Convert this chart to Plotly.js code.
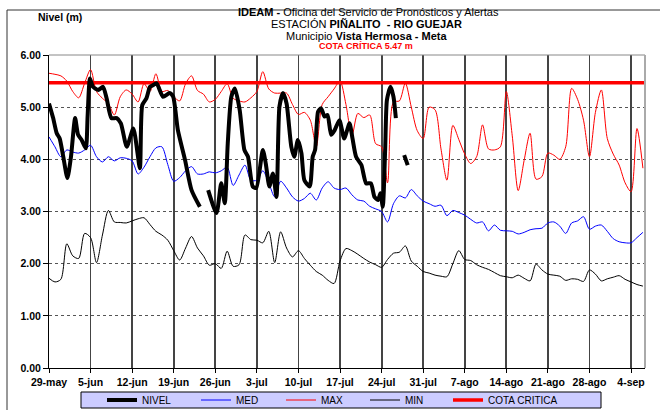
<!DOCTYPE html>
<html>
<head>
<meta charset="utf-8">
<script src="https://cdn.plot.ly/plotly-3.0.1.min.js"></script>
<style>html,body{margin:0;padding:0;background:#fff;}#chart{width:660px;height:410px;}</style>
</head>
<body>
<div id="chart"></div>
<script>
// Tick labels (one per week starting 29-may, day index 0)
const tickDays = [0, 7, 14, 21, 28, 35, 42, 49, 56, 63, 70, 77, 84, 91, 98];
const tickLabels = ['29-may','5-jun','12-jun','19-jun','26-jun','3-jul','10-jul','17-jul','24-jul','31-jul','7-ago','14-ago','21-ago','28-ago','4-sep'];

// Daily historical MAX (day 0 .. 100)
const maxVals = [5.65,5.63,5.60,5.50,5.30,5.18,5.46,5.72,5.30,5.17,
  5.07,4.85,5.20,5.33,5.25,5.10,5.45,5.30,5.64,5.30,
  5.32,5.20,5.12,5.45,5.60,5.32,5.25,5.10,5.15,5.30,
  5.45,5.17,5.12,5.10,5.18,5.30,5.68,5.35,5.27,5.27,
  5.27,5.05,4.86,4.90,4.75,4.24,5.05,5.20,5.35,5.50,
  5.05,4.45,4.88,4.80,4.85,4.30,4.24,3.55,5.10,5.12,
  5.46,5.00,4.55,4.40,5.00,4.95,4.20,3.60,4.65,4.38,
  4.10,3.92,4.05,4.66,4.20,4.18,4.24,5.30,4.45,3.40,
  3.98,4.50,3.62,3.67,4.12,4.08,4.00,4.24,5.36,5.15,
  4.75,4.05,4.90,5.33,4.40,4.10,3.89,3.55,3.38,4.59,3.83];

// Daily historical MED
const medVals = [4.43,4.24,4.05,4.18,4.14,4.12,4.18,4.27,4.05,3.95,
  4.05,3.97,4.03,4.02,3.97,3.72,3.85,4.05,4.22,4.24,
  3.90,3.58,3.65,3.78,3.86,3.72,3.72,3.76,3.74,3.78,
  3.85,3.50,3.70,3.89,3.60,3.60,3.78,3.55,3.28,3.58,
  3.45,3.28,3.20,3.25,3.35,3.22,3.45,3.57,3.45,3.42,
  3.45,3.32,3.22,3.20,3.10,3.05,3.00,2.80,3.15,3.30,
  3.26,3.42,3.30,3.20,3.15,3.10,3.12,2.92,3.02,2.98,
  2.93,2.85,2.78,2.80,2.63,2.74,2.64,2.63,2.62,2.57,
  2.60,2.65,2.67,2.68,2.78,2.80,2.72,2.58,2.78,2.82,
  2.90,2.66,2.72,2.74,2.62,2.48,2.42,2.40,2.40,2.50,2.60];

// Daily historical MIN
const minVals = [1.72,1.65,1.70,2.38,2.15,2.10,2.58,2.50,2.02,2.55,
  3.02,2.80,2.79,2.78,2.82,2.86,2.88,2.75,2.62,2.55,
  2.45,2.25,2.07,2.30,2.52,2.30,2.15,1.97,2.00,1.91,
  2.24,1.95,1.98,2.55,2.46,2.45,2.40,2.62,2.02,2.61,
  2.30,2.13,2.25,2.10,1.97,1.85,1.78,1.68,1.62,2.05,
  2.29,2.25,2.18,2.10,2.03,1.98,1.93,2.08,2.20,2.22,
  2.34,2.05,1.95,1.85,1.82,1.78,1.76,1.75,2.00,2.25,
  2.08,2.06,1.98,1.93,1.89,1.83,1.77,1.75,1.73,1.78,
  1.72,1.67,1.99,1.88,1.80,1.78,1.76,1.68,1.71,1.70,
  1.66,1.88,1.80,1.67,1.71,1.74,1.77,1.70,1.65,1.60,1.57];

// Observed level NIVEL (several readings per day, gaps = null)
const nivelDays = [0,0.7,1.3,1.8,2.4,3.1,3.7,4.4,4.9,5.5,6.2,6.5,6.9,7.4,8.3,9.1,9.7,10.5,11.4,12.1,
  13.1,14.2,15.3,15.7,16.4,17.0,17.5,18.1,19.2,20.3,20.9,21.7,22.9,24.0,25.4,26.0,
  26.8,28.2,29.0,29.6,30.1,30.7,31.3,32.1,32.9,33.5,34.3,34.9,36.0,36.5,37.1,37.7,38.3,38.8,39.4,40.0,
  40.8,41.3,41.9,42.5,43.0,43.9,44.4,44.8,45.3,45.8,46.4,46.9,47.5,48.1,48.9,49.7,50.6,51.1,51.7,52.6,
  53.4,54.2,54.8,55.4,55.8,56.2,56.6,56.9,57.5,58.0,58.4,59.0,59.8,60.4];
const nivelVals = [5.07,4.79,4.50,4.40,4.05,3.64,4.05,4.79,4.47,4.37,4.21,4.82,5.55,5.39,5.33,5.39,5.17,4.79,4.79,4.69,
  4.24,4.59,3.83,5.04,5.17,5.39,5.42,5.46,5.20,5.27,5.20,4.56,3.99,3.41,3.09,null,
  3.41,2.97,3.54,3.16,4.31,5.20,5.36,4.95,4.18,4.05,3.48,3.45,4.18,3.92,3.48,3.73,3.28,5.01,5.27,5.07,
  4.24,4.05,4.37,4.12,3.60,3.48,4.05,4.18,4.91,4.98,4.82,4.85,4.47,4.56,4.75,4.40,4.69,4.40,4.05,3.89,
  3.54,3.54,3.28,3.22,3.35,3.09,4.18,5.14,5.39,5.20,4.79,null,4.08,3.89];

const cotaCritica = 5.47;

const days = maxVals.map((_, i) => i);
const cotaDays = [0, 100.35];
const cotaVals = cotaDays.map(() => cotaCritica);

const traces = [
  {x: days, y: minVals, name: 'MIN', mode: 'lines', line: {color: '#000000', width: 1, shape: 'spline', smoothing: 0.8}, legend: 'legend4'},
  {x: days, y: medVals, name: 'MED', mode: 'lines', line: {color: '#0000ff', width: 1, shape: 'spline', smoothing: 0.8}, legend: 'legend2'},
  {x: days, y: maxVals, name: 'MAX', mode: 'lines', line: {color: '#ff0000', width: 1, shape: 'spline', smoothing: 0.8}, legend: 'legend3'},
  {x: cotaDays, y: cotaVals, name: 'COTA CRITICA', mode: 'lines', line: {color: '#ff0000', width: 3.5}, legend: 'legend5'},
  {x: nivelDays, y: nivelVals, name: 'NIVEL', mode: 'lines', line: {color: '#000000', width: 4, shape: 'spline', smoothing: 0.6}, connectgaps: false, legend: 'legend'}
];

// helpers to convert layout pixel geometry to paper coords
const L = 49, R = 645, T = 55, B = 368;
const px = v => (v - L) / (R - L);
const py = v => (B - v) / (B - T);

const legendAt = textStart => ({orientation: 'h', x: px(textStart - 40), xanchor: 'left', y: py(400), yanchor: 'middle',
  bgcolor: 'rgba(0,0,0,0)', borderwidth: 0, font: {size: 10, color: '#000'}});

const layout = {
  width: 660, height: 410,
  margin: {l: L, r: 660 - R, t: T, b: 410 - B, pad: 0, autoexpand: false},
  paper_bgcolor: '#ffffff', plot_bgcolor: '#ffffff',
  font: {family: '"Liberation Sans", Arial, sans-serif', color: '#000', size: 10},
  showlegend: true,
  legend: legendAt(142),
  legend2: legendAt(236),
  legend3: legendAt(321),
  legend4: legendAt(405),
  legend5: legendAt(488),
  xaxis: {range: [0, 100.35], tickmode: 'array', tickvals: tickDays, ticktext: tickLabels,
    showgrid: true, gridcolor: '#444', gridwidth: 1.8, zeroline: false,
    showline: true, linecolor: '#000', linewidth: 1, ticks: 'outside', ticklen: 4, tickcolor: '#000',
    tickfont: {size: 10.5, color: '#000', weight: 'bold'}, fixedrange: true},
  yaxis: {range: [0, 6], tickmode: 'array', tickvals: [0,1,2,3,4,5,6], tickformat: '.2f',
    showgrid: true, gridcolor: '#555', griddash: 'dot', gridwidth: 1, zeroline: false,
    showline: true, linecolor: '#000', linewidth: 1, ticks: 'outside', ticklen: 5, tickcolor: '#000',
    tickfont: {size: 10.5, color: '#000', weight: 'bold'}, fixedrange: true},
  shapes: [
    // outer chart frame (partially visible)
    {type: 'line', xref: 'paper', yref: 'paper', x0: px(7), x1: px(660), y0: py(10), y1: py(10), line: {color: '#333', width: 1}},
    {type: 'line', xref: 'paper', yref: 'paper', x0: px(7), x1: px(7), y0: py(10), y1: py(410), line: {color: '#333', width: 1}},
    // plot area border top/right
    {type: 'line', xref: 'paper', yref: 'paper', x0: 0, x1: 1, y0: 1, y1: 1, line: {color: '#888', width: 1}},
    {type: 'line', xref: 'paper', yref: 'paper', x0: 1, x1: 1, y0: 0, y1: 1, line: {color: '#aaa', width: 2}},
    // legend box
    {type: 'rect', xref: 'paper', yref: 'paper', x0: px(81), x1: px(601), y0: py(408), y1: py(392),
      fillcolor: '#ccccff', line: {color: '#000', width: 1}, layer: 'below'}
  ],
  annotations: [
    {xref: 'paper', yref: 'paper', x: px(368), y: py(12), xanchor: 'center', yanchor: 'middle', showarrow: false,
      text: '<b>IDEAM -</b> Oficina del Servicio de Pronósticos y Alertas', font: {size: 11, color: '#000'}},
    {xref: 'paper', yref: 'paper', x: px(367), y: py(24), xanchor: 'center', yanchor: 'middle', showarrow: false,
      text: 'ESTACIÓN <b>PIÑALITO  - RIO GUEJAR</b>', font: {size: 11, color: '#000'}},
    {xref: 'paper', yref: 'paper', x: px(367), y: py(35.5), xanchor: 'center', yanchor: 'middle', showarrow: false,
      text: 'Municipio <b>Vista Hermosa - Meta</b>', font: {size: 11, color: '#000'}},
    {xref: 'paper', yref: 'paper', x: px(366), y: py(45.5), xanchor: 'center', yanchor: 'middle', showarrow: false,
      text: '<b>COTA CRÍTICA 5.47 m</b>', font: {size: 9, color: '#ff0000'}},
    {xref: 'paper', yref: 'paper', x: px(60), y: py(17), xanchor: 'center', yanchor: 'middle', showarrow: false,
      text: '<b>Nivel (m)</b>', font: {size: 10.5, color: '#000'}}
  ]
};

Plotly.newPlot('chart', traces, layout, {displayModeBar: false, staticPlot: true});
</script>
</body>
</html>
